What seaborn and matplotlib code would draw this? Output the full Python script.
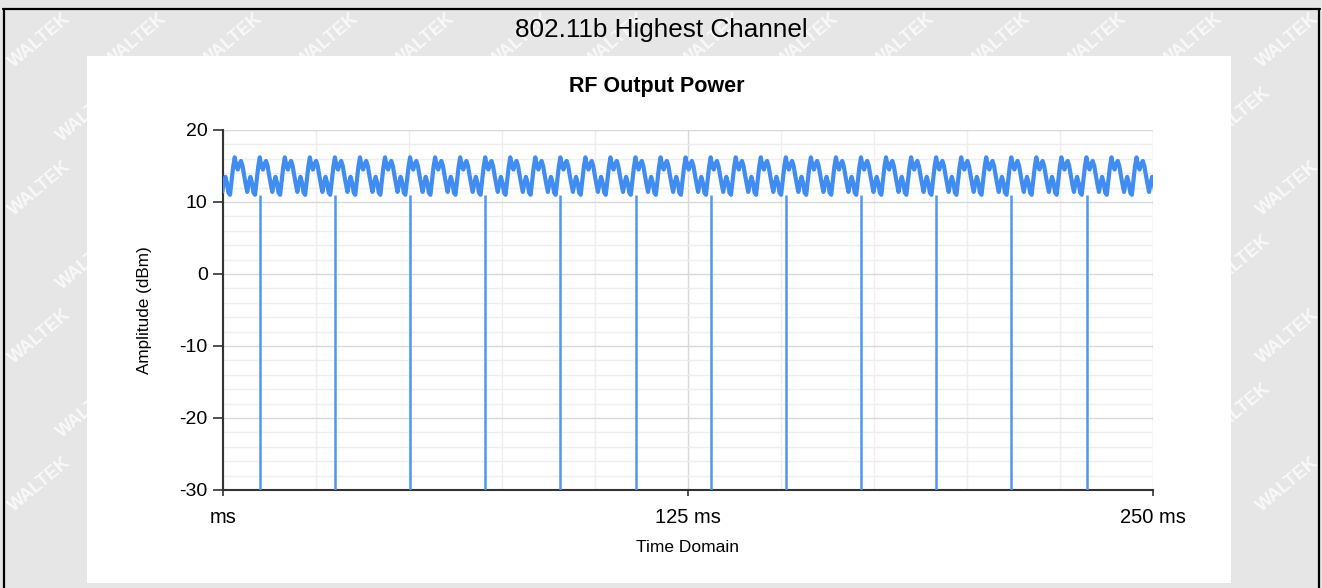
import numpy as np
import pandas as pd
import seaborn as sns
import matplotlib.pyplot as plt
from matplotlib.patches import Rectangle
from matplotlib.lines import Line2D
from matplotlib.ticker import MultipleLocator, FixedLocator

# one envelope cycle of the burst (dBm), starting at the crest, 16 samples
cycle_dbm = [16.2, 15.0, 14.5, 15.3, 15.7, 15.0, 13.7, 12.5, 11.4, 12.6,
             13.5, 12.7, 11.3, 11.0, 12.9, 14.9]
cycle_ms = 6.734
first_crest_ms = 3.15
# positions of the drop-outs between bursts (ms)
dropout_ms = [9.9, 30.1, 50.3, 70.4, 90.6, 111.0, 131.2, 151.3, 171.5, 191.7, 211.8, 232.3]
dropout_top = 11.0
floor_dbm = -30

x_ticks = [0, 125, 250]
x_labels = ["ms", "125 ms", "250 ms"]
y_ticks = [-30, -20, -10, 0, 10, 20]

W, H = 1322, 588
line_col = "#418cf0"

# build the sampled trace from the repeated cycle
t = []
amp = []
for k in range(-1, 38):
    for j, v in enumerate(cycle_dbm):
        tt = first_crest_ms + cycle_ms * (k + j / len(cycle_dbm))
        if -2 < tt < 252:
            t.append(tt)
            amp.append(v)
df = pd.DataFrame({"t": t, "amp": amp})

sns.set_theme(style="white")
plt.rcParams["font.family"] = ["Liberation Sans", "DejaVu Sans"]
plt.rcParams["axes.unicode_minus"] = False

fig = plt.figure(figsize=(W / 100, H / 100), dpi=100)
fig.patch.set_facecolor("#e6e6e6")

# watermark, only where the whole word fits inside the picture
for r in range(8):
    yp = 40 + r * 74
    off = 48 if r % 2 else 0
    for xp in range(40 + off, W - 30, 96):
        if yp > H - 32:
            continue
        fig.text(xp / W, 1 - yp / H, "WALTEK", rotation=40, fontsize=13,
                 fontweight="bold", color="#f9f9f9", ha="center", va="center",
                 zorder=0)

# white panel
fig.add_artist(Rectangle((87 / W, 1 - 583 / H), (1231 - 87) / W, (583 - 56) / H,
                         transform=fig.transFigure, facecolor="white",
                         edgecolor="none", zorder=1))

# frame lines
for xs, ys in [((3 / W, 1320 / W), (1 - 8.5 / H, 1 - 8.5 / H)),
               ((4 / W, 4 / W), (1 - 8.5 / H, 0)),
               ((1318.5 / W, 1318.5 / W), (1 - 8.5 / H, 0))]:
    fig.add_artist(Line2D(xs, ys, transform=fig.transFigure, color="black",
                          lw=1.6, zorder=2))

fig.text(661 / W, 1 - 30 / H, "802.11b Highest Channel", fontsize=18.8,
         ha="center", va="center", color="black", zorder=3)
fig.text(657 / W, 1 - 86 / H, "RF Output Power", fontsize=15.5, fontweight="bold",
         ha="center", va="center", color="black", zorder=3)

ax = fig.add_axes([223 / W, 1 - 490 / H, (1153 - 223) / W, (490 - 130) / H])
ax.set_zorder(3)
ax.set_facecolor("white")

sns.lineplot(data=df, x="t", y="amp", ax=ax, color=line_col, linewidth=3,
             estimator=None, sort=False, zorder=3)
ax.vlines(dropout_ms, floor_dbm, dropout_top, color="#5097f2", lw=1.8, zorder=3)

ax.set_xlim(0, 250)
ax.set_ylim(-30, 20)
ax.xaxis.set_major_locator(FixedLocator(x_ticks))
ax.set_xticklabels(x_labels)
ax.xaxis.set_minor_locator(MultipleLocator(25))
ax.yaxis.set_major_locator(FixedLocator(y_ticks))
ax.yaxis.set_minor_locator(MultipleLocator(2))

ax.grid(True, which="major", color="#d8d8d8", lw=1, zorder=0)
ax.grid(True, which="minor", color="#eeeeee", lw=1, zorder=0)
ax.set_axisbelow(True)

for s in ["top", "right"]:
    ax.spines[s].set_visible(False)
for s in ["left", "bottom"]:
    ax.spines[s].set_color("#333333")
    ax.spines[s].set_linewidth(1.5)

ax.tick_params(axis="y", which="major", left=True, length=7.5, width=1.2,
               color="#333333", pad=3.5, labelsize=14, labelcolor="black")
ax.tick_params(axis="x", which="major", bottom=True, length=4, width=1.2,
               color="#333333", pad=9, labelsize=14.5, labelcolor="black")
ax.tick_params(which="minor", length=0)

ax.set_xlabel("Time Domain", fontsize=12.5, labelpad=9, color="black")
ax.set_ylabel("Amplitude (dBm)", fontsize=12.3, labelpad=20, color="black")

fig.savefig("out.png", dpi=100, facecolor=fig.get_facecolor())
